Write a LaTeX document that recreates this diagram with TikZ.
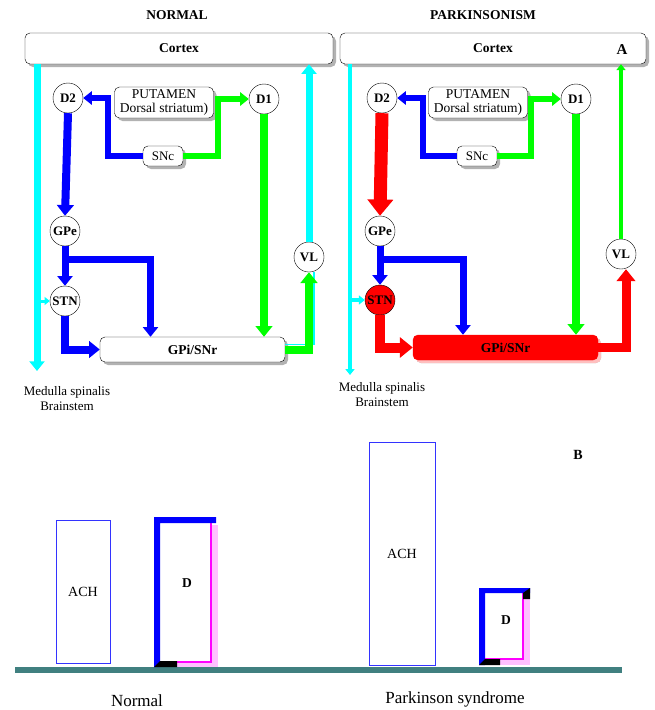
\documentclass[tikz,border=0pt]{standalone}
\usepackage{fontspec}
\setmainfont{Liberation Serif}
\usetikzlibrary{positioning,arrows.meta,shadows,calc}
\definecolor{barteal}{RGB}{64,128,128}
\definecolor{achblue}{RGB}{51,51,255}
\definecolor{dpink}{RGB}{255,192,255}
\definecolor{aqua}{RGB}{0,255,255}
\definecolor{lime}{RGB}{0,255,0}
\definecolor{fuchsia}{RGB}{255,0,255}
\definecolor{pure}{RGB}{0,0,255}
\definecolor{scarlet}{RGB}{255,0,0}

\begin{document}
\begin{tikzpicture}[x=1pt,y=-1pt,font=\fontsize{13}{15}\selectfont,
  nuc/.style={circle,draw,fill=white,minimum size=30pt,inner sep=0pt,font=\fontsize{13}{15}\selectfont\bfseries},
  box/.style={draw,rounded corners=5pt,fill=white,
    drop shadow={shadow xshift=3pt,shadow yshift=-3pt,opacity=1,fill=black!30}},
  put/.style={box,minimum width=99pt,minimum height=31pt,inner sep=0pt,align=center,
    font=\fontsize{13.5}{14.5}\selectfont},
  arr/.style={line width=#1,-{Triangle[length=2pt 1.1,width=3pt 1.7]}},
  bold/.style={font=\fontsize{13.5}{15}\selectfont\bfseries},
  captxt/.style={font=\fontsize{17}{20}\selectfont,inner sep=0pt},
  bar/.style={draw=achblue,line width=1pt,font=\fontsize{14}{15}\selectfont}]
  \useasboundingbox (0,0) rectangle (655,710);

  % A: normal
  \node[bold] (titN) at (177,15) {NORMAL};
  \node[box,bold,minimum width=308pt,minimum height=31pt] (ctxN) at (179,48.5) {Cortex};
  \node[nuc] (d2N) at (68,98) {D2};
  \node[put] (putN) at (164,102.5) {PUTAMEN\\Dorsal striatum)};
  \node[nuc] (d1N) at (264,99) {D1};
  \node[box,minimum width=40pt,minimum height=20pt,inner sep=0pt] (sncN) at (163,156) {SNc};
  \node[nuc] (gpeN) at (65,231) {GPe};
  \node[nuc] (stnN) at (65,301) {STN};
  \node[box,bold,minimum width=185pt,minimum height=25pt] (gpiN) at (192.5,349.5) {GPi/SNr};
  \node[nuc] (vlN) at (309,257) {VL};
  \coordinate (medN) at (37,371);
  \node[align=center] (medtN) at (67,399) {Medulla spinalis\\Brainstem};

  \draw[arr=7,aqua] (ctxN.south -| medN) -- (medN);
  \draw[arr=3,aqua] (medN |- stnN) -- (stnN.west);
  \draw[arr=7,aqua] (vlN.north) -- (vlN.north |- ctxN.south);
  \draw[aqua,line width=1.5] ([yshift=5pt]gpiN.east) -| ([xshift=5pt]vlN.south);
  \draw[arr=6,pure] (sncN.west) -- ++(-35,0) |- (d2N.east);
  \draw[arr=6,lime] (sncN.east) -- ++(35,0) |- (d1N.west);
  \draw[arr=8,pure] (d2N.south) -- (gpeN.north);
  \draw[arr=7,pure] (gpeN.south) -- (stnN.north);
  \draw[arr=7,pure] ($(gpeN.south)+(0,13)$) -| ([xshift=-42pt]gpiN.north);
  \draw[arr=8,pure] (stnN.south) |- (gpiN.west);
  \draw[arr=8,lime] (d1N.south) -- (d1N.south |- gpiN.north);
  \draw[arr=8,lime] (gpiN.east) -| (vlN.south);

  % A: parkinsonism
  \node[bold] (titP) at (483,15) {PARKINSONISM};
  \node[box,bold,minimum width=306pt,minimum height=31pt] (ctxP) at (493,48.5) {Cortex};
  \node[font=\fontsize{15}{15}\selectfont\bfseries] (lblA) at (622,50) {A};
  \node[nuc] (d2P) at (382,98) {D2};
  \node[put] (putP) at (478,102.5) {PUTAMEN\\Dorsal striatum)};
  \node[nuc] (d1P) at (576,99) {D1};
  \node[box,minimum width=40pt,minimum height=20pt,inner sep=0pt] (sncP) at (477,156) {SNc};
  \node[nuc] (gpeP) at (380,231) {GPe};
  \node[nuc,fill=scarlet] (stnP) at (380,300) {STN};
  \node[box,bold,fill=scarlet,draw=scarlet,minimum width=185pt,minimum height=25pt,
    drop shadow={shadow xshift=3pt,shadow yshift=-3pt,opacity=1,fill=scarlet!25}] (gpiP) at (505.5,347.5) {GPi/SNr};
  \node[nuc] (vlP) at (621,254) {VL};
  \coordinate (medP) at (350,375);
  \node[align=center] (medtP) at (382,395) {Medulla spinalis\\Brainstem};

  \draw[arr=3.5,aqua] (ctxP.south -| medP) -- (medP);
  \draw[arr=3.5,aqua] (medP |- stnP) -- (stnP.west);
  \draw[arr=6,pure] (sncP.west) -- ++(-34,0) |- (d2P.east);
  \draw[arr=6,lime] (sncP.east) -- ++(34,0) |- (d1P.west);
  \draw[arr=13,scarlet] (d2P.south) -- (gpeP.north);
  \draw[arr=7,pure] (gpeP.south) -- (stnP.north);
  \draw[arr=7,pure] ($(gpeP.south)+(0,13)$) -| ([xshift=-42.5pt]gpiP.north);
  \draw[arr=10,scarlet] (stnP.south) |- (gpiP.west);
  \draw[arr=8,lime] (d1P.south) -- (d1P.south |- gpiP.north);
  \draw[arr=9,scarlet] (gpiP.east) -| ([xshift=5pt]vlP.south);
  \draw[arr=3.5,lime] (vlP.north) -- (vlP.north |- ctxP.south);

  % B
  \node[font=\fontsize{14}{15}\selectfont\bfseries] (lblB) at (578,455) {B};
  \fill[barteal] (15,667) rectangle (622,673);
  \node[bar,minimum width=54pt,minimum height=143pt] (achN) at (83,591.5) {ACH};
  \node[bar,minimum width=66pt,minimum height=223pt] (achP) at (402,553.5) {ACH};
  % D boxes
  \fill[dpink] (160,525) rectangle (218,667);
  \draw[fuchsia,line width=1.5pt,fill=white] (157,520) rectangle (211,662);
  \fill[pure] (154,517) -- (216,517) -- (216,523) -- (160,523) -- (160,667) -- (154,667) -- cycle;
  \fill (154,667) -- (160,661) -- (177,661) -- (177,667) -- cycle;
  \node[font=\fontsize{13.5}{15}\selectfont\bfseries] (dN) at (187,583) {D};
  \fill[dpink] (485,594) rectangle (530,665);
  \draw[fuchsia,line width=1.5pt,fill=white] (482,591) rectangle (523,659);
  \fill[pure] (479,588) -- (530,588) -- (530,593) -- (485,593) -- (485,665) -- (479,665) -- cycle;
  \fill (479,665) -- (485,659) -- (500,659) -- (500,665) -- cycle;
  \fill (523,593) -- (530,588) -- (530,599) -- (523,599) -- cycle;
  \node[font=\fontsize{13.5}{15}\selectfont\bfseries] (dP) at (506,620) {D};
  \node[captxt] (capN) at (137,701) {Normal};
  \node[captxt] (capP) at (455,699) {Parkinson syndrome};
\end{tikzpicture}
\end{document}
